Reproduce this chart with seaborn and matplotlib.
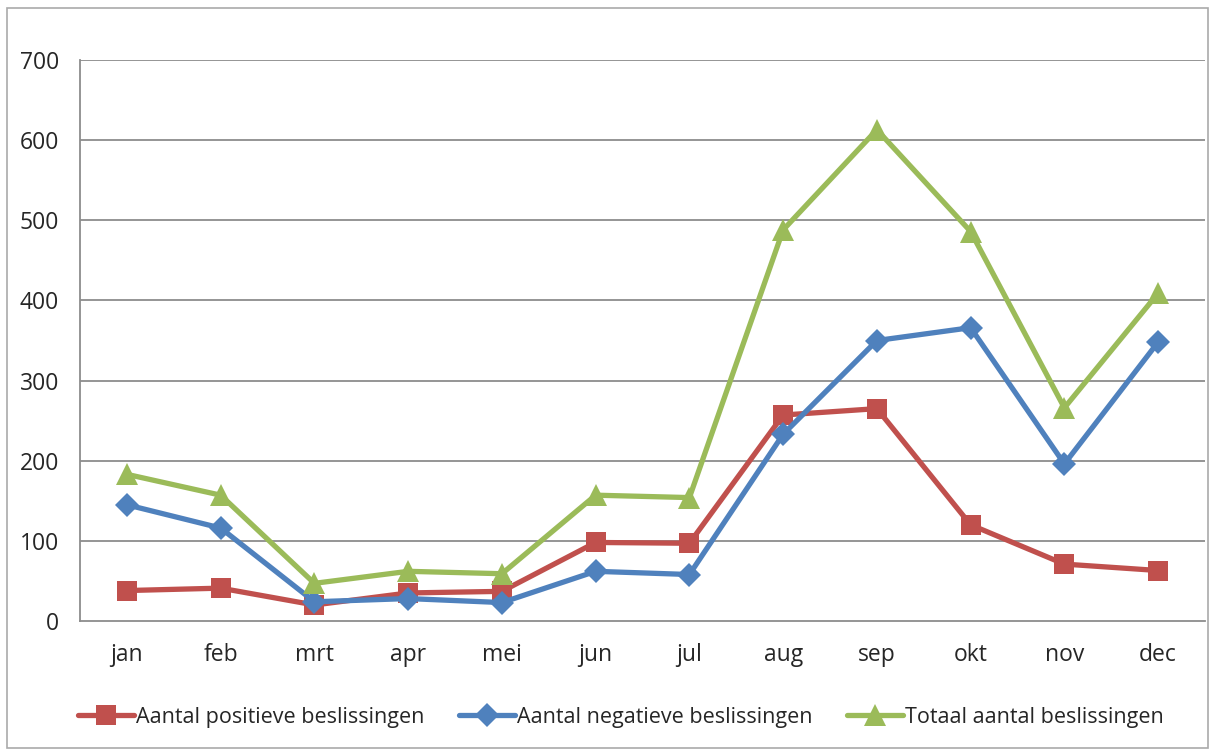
import numpy as np
import pandas as pd
import matplotlib
matplotlib.use("Agg")
import matplotlib.pyplot as plt
import seaborn as sns
from matplotlib.patches import Rectangle

# values
maanden = ['jan', 'feb', 'mrt', 'apr', 'mei', 'jun', 'jul', 'aug', 'sep', 'okt', 'nov', 'dec']
positief = [38, 41, 20, 35, 37, 98, 97, 257, 265, 120, 71, 63]
negatief = [145, 116, 24, 28, 23, 62, 58, 233, 350, 366, 196, 348]
totaal = [183, 157, 47, 62, 59, 157, 154, 488, 613, 486, 266, 409]

series_names = ['Aantal positieve beslissingen', 'Aantal negatieve beslissingen', 'Totaal aantal beslissingen']
colors = ['#C0504D', '#4F81BD', '#9BBB59']
markers = ['s', 'D', '^']
marker_sizes = [14, 12, 16]
y_ticks = [0, 100, 200, 300, 400, 500, 600, 700]

df = pd.DataFrame({
    'maand': maanden * 3,
    'aantal': positief + negatief + totaal,
    'reeks': np.repeat(series_names, len(maanden)),
})

sns.set_style('white')
plt.rcParams['font.family'] = ['Open Sans', 'DejaVu Sans']

fig = plt.figure(figsize=(12.13, 7.51), dpi=100)
ax = fig.add_axes([0.066, 0.1731, 0.9274, 0.747])

# outer chart border
fig.patches.append(Rectangle((0.006, 0.004), 0.99, 0.985, transform=fig.transFigure,
                             fill=False, edgecolor='#AAAAAA', linewidth=1.2))

for y in y_ticks[1:]:
    ax.axhline(y, color='#8C8C8C', linewidth=1.3, zorder=0)

sns.lineplot(data=df, x='maand', y='aantal', hue='reeks', style='reeks',
             palette=dict(zip(series_names, colors)),
             markers=dict(zip(series_names, markers)),
             dashes=False, linewidth=3.8, markersize=12, markeredgewidth=0,
             sort=False, ax=ax)

# per-series marker size (Excel squares/triangles look bigger than diamonds)
data_lines = [l for l in ax.lines if len(l.get_xdata()) == len(maanden)]
for line, ms in zip(data_lines, marker_sizes):
    line.set_markersize(ms)

ax.set_xlim(-0.5, len(maanden) - 0.5)
ax.set_ylim(0, 700)
ax.set_yticks(y_ticks)
ax.set_xticks(range(len(maanden)))
ax.set_xticklabels(maanden)
ax.set_xticks(np.arange(-0.5, len(maanden), 1.0), minor=True)
ax.tick_params(axis='x', which='major', length=0, pad=16, labelsize=16.5)
ax.tick_params(axis='x', which='minor', length=6, width=1.3, color='#8C8C8C', direction='out')
ax.tick_params(axis='y', length=0, pad=15, labelsize=16.5)
ax.set_xlabel('')
ax.set_ylabel('')

for side in ['top', 'right']:
    ax.spines[side].set_visible(False)
for side in ['left', 'bottom']:
    ax.spines[side].set_color('#8C8C8C')
    ax.spines[side].set_linewidth(1.3)

handles, labels = ax.get_legend_handles_labels()
for h, ms in zip(handles, marker_sizes):
    h.set_markersize(ms)
ax.get_legend().remove()
fig.legend(handles, labels, loc='center', bbox_to_anchor=(0.512, 0.045), ncol=3,
           frameon=False, fontsize=15.5, handlelength=2.6, handletextpad=0.1,
           columnspacing=1.6)

fig.savefig('out.png', dpi=100)
